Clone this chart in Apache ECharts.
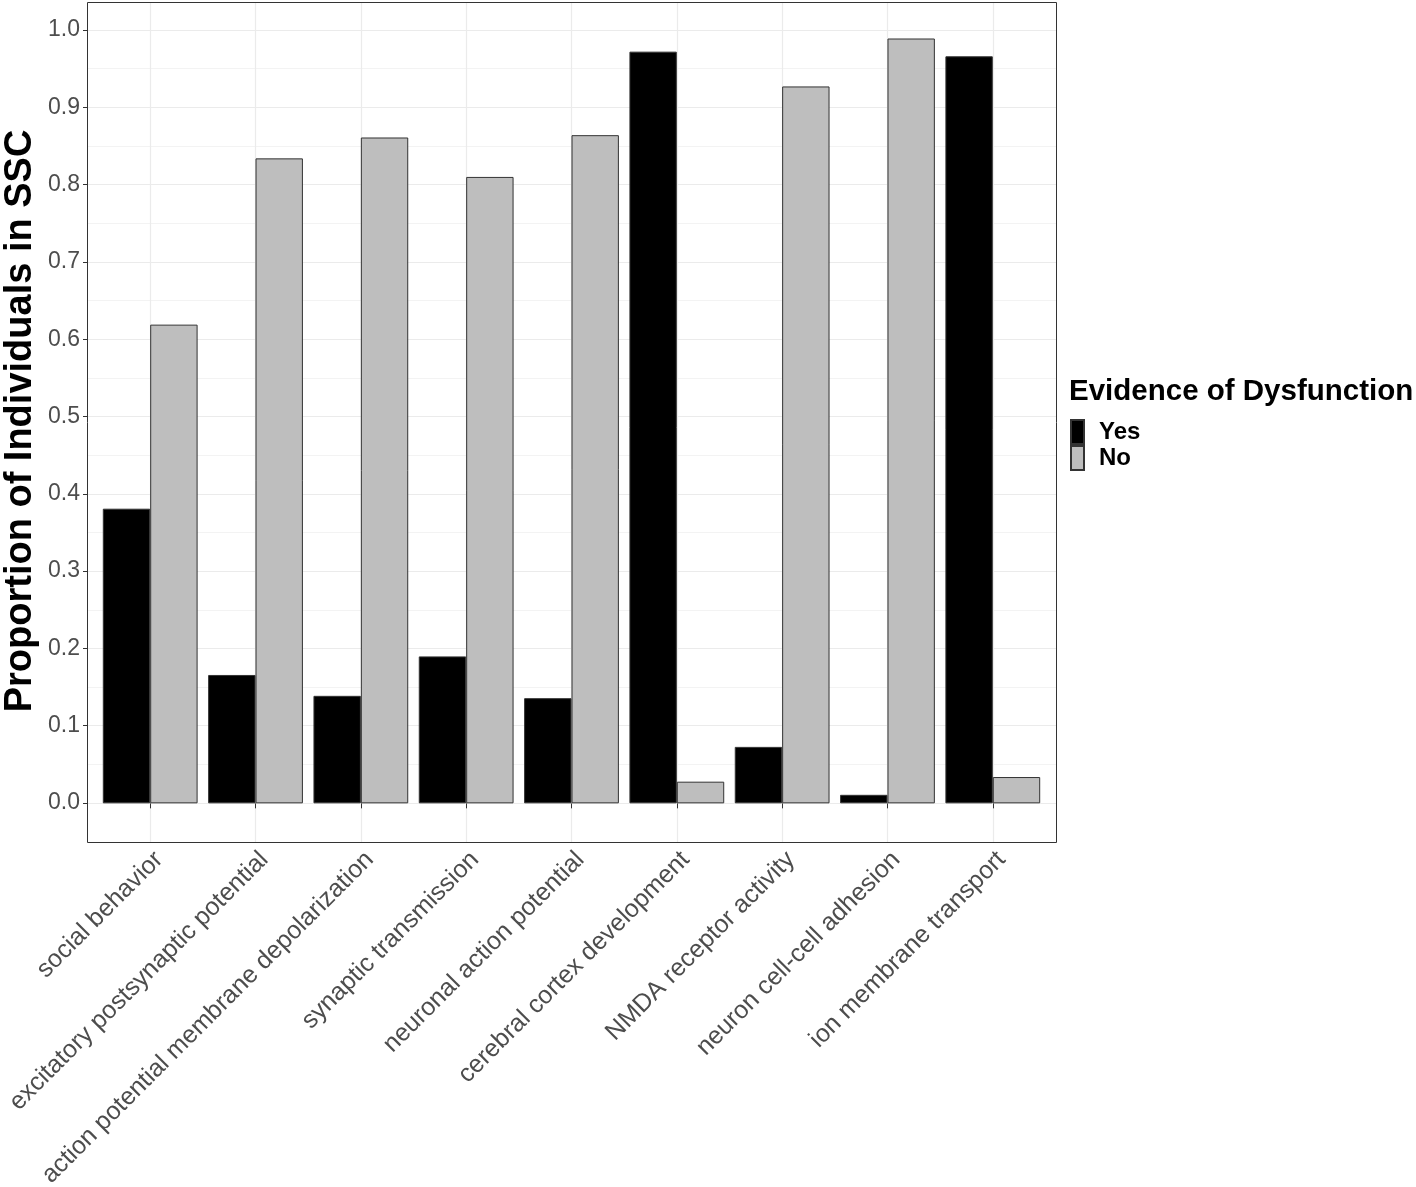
<!DOCTYPE html>
<html>
<head>
<meta charset="utf-8">
<script src="https://cdn.jsdelivr.net/npm/echarts@6/dist/echarts.min.js"></script>
<style>
html,body{margin:0;padding:0;background:#fff;}
#chart{width:1416px;height:1187px;}
</style>
</head>
<body>
<div id="chart"></div>
<script>
const categories = [
  "social behavior",
  "excitatory postsynaptic potential",
  "action potential membrane depolarization",
  "synaptic transmission",
  "neuronal action potential",
  "cerebral cortex development",
  "NMDA receptor activity",
  "neuron cell-cell adhesion",
  "ion membrane transport"
];
const yesValues = [0.381, 0.166, 0.139, 0.190, 0.136, 0.972, 0.073, 0.011, 0.966];
const noValues  = [0.619, 0.834, 0.861, 0.810, 0.864, 0.028, 0.927, 0.989, 0.034];
const yTicks = [0.0, 0.1, 0.2, 0.3, 0.4, 0.5, 0.6, 0.7, 0.8, 0.9, 1.0];

const FONT = "'Liberation Sans', Arial, Helvetica, sans-serif";
const chart = echarts.init(document.getElementById('chart'));

chart.setOption({
  backgroundColor: '#ffffff',
  animation: false,
  title: {
    text: 'Evidence of Dysfunction',
    left: 1069, top: 377, padding: 0,
    textStyle: {fontFamily: FONT, fontSize: 29.5, fontWeight: 'bold', color: '#000'}
  },
  legend: {
    orient: 'vertical', left: 1070, top: 419, padding: 0,
    itemWidth: 13, itemHeight: 24, itemGap: 0, icon: 'rect',
    data: ['Yes', 'No'],
    textStyle: {fontFamily: FONT, fontSize: 24, fontWeight: 'bold', color: '#000', padding: [4, 0, 0, 10]}
  },
  grid: [
    {left: 87, right: 360, top: 30, bottom: 384, containLabel: false, outerBoundsMode: 'none'},
    {left: 150.2, right: 423.2, top: 2, bottom: 345, containLabel: false, outerBoundsMode: 'none'}
  ],
  xAxis: [
    {gridIndex: 0, type: 'value', show: false, min: 0, max: 1},
    {
      gridIndex: 1, type: 'category', data: categories, boundaryGap: false,
      axisLine: {show: false},
      axisTick: {show: true, length: 5, lineStyle: {color: '#333', width: 1}},
      axisLabel: {rotate: 45, fontFamily: FONT, fontSize: 25, color: '#4d4d4d', margin: 5,
        interval: 0, verticalAlign: 'top'},
      splitLine: {show: true, lineStyle: {color: '#ebebeb', width: 1.2}}
    }
  ],
  yAxis: [
    {
      gridIndex: 0, type: 'value', min: yTicks[0], max: yTicks[yTicks.length - 1], interval: 0.1,
      axisLine: {show: false},
      axisTick: {show: true, length: 4, lineStyle: {color: '#333', width: 1}},
      axisLabel: {fontFamily: FONT, fontSize: 23, color: '#4d4d4d', margin: 7,
        formatter: v => v.toFixed(1)},
      splitLine: {show: true, lineStyle: {color: '#ebebeb', width: 1.2}},
      minorTick: {show: false, splitNumber: 2},
      minorSplitLine: {show: true, lineStyle: {color: '#f0f0f0', width: 0.8}}
    },
    {gridIndex: 1, type: 'value', show: false, min: -0.05, max: 1.0362,
      splitLine: {show: false}}
  ],
  graphic: [
    {
      type: 'rect', z: 100, silent: true,
      shape: {x: 87.5, y: 2.5, width: 969, height: 840},
      style: {fill: 'none', stroke: '#333', lineWidth: 1}
    },
    {
      type: 'text', x: 21, y: 421, rotation: Math.PI / 2, z: 100,
      style: {text: 'Proportion of Individuals in SSC', fontFamily: FONT, fontSize: 38,
        fontWeight: 'bold', fill: '#000', align: 'center', verticalAlign: 'middle'}
    }
  ],
  series: [
    {
      name: 'Yes', type: 'bar', xAxisIndex: 1, yAxisIndex: 1, data: yesValues,
      barGap: '0%', barCategoryGap: '10%', clip: false,
      itemStyle: {color: '#000000', borderColor: '#333', borderWidth: 1}
    },
    {
      name: 'No', type: 'bar', xAxisIndex: 1, yAxisIndex: 1, data: noValues,
      barGap: '0%', barCategoryGap: '10%', clip: false,
      itemStyle: {color: '#bebebe', borderColor: '#333', borderWidth: 1}
    }
  ]
});
</script>
</body>
</html>
